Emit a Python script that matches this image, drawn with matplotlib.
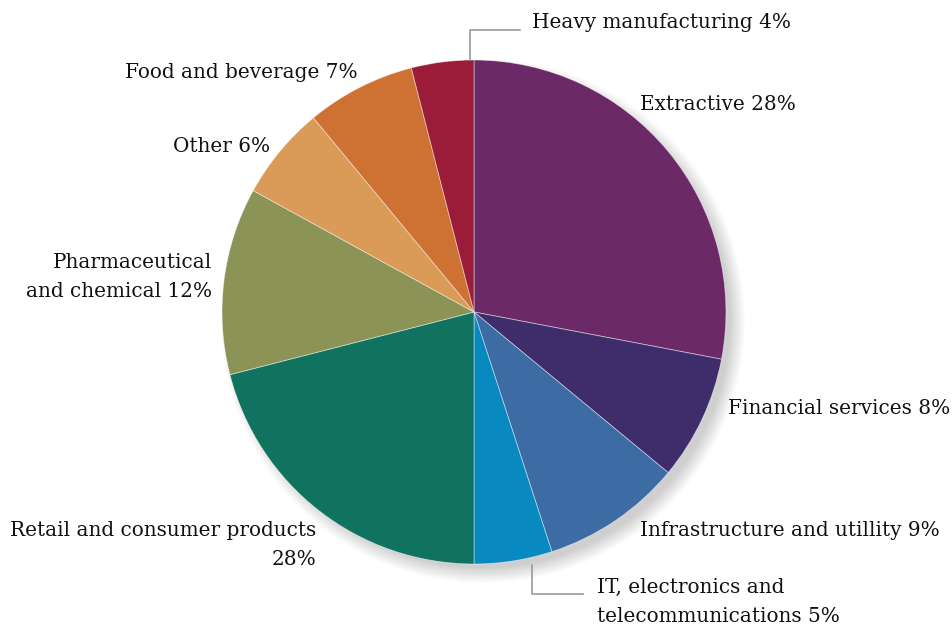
import matplotlib
matplotlib.use("Agg")
import matplotlib.pyplot as plt
from matplotlib.patches import Circle

# Data (slice shares; label texts as printed)
sectors = ["Extractive", "Financial services", "Infrastructure and utillity",
           "IT, electronics and telecommunications", "Retail and consumer products",
           "Pharmaceutical and chemical", "Other", "Food and beverage",
           "Heavy manufacturing"]
values = [28, 8, 9, 5, 21, 12, 6, 7, 4]
label_texts = ["Extractive 28%", "Financial services 8%", "Infrastructure and utillity 9%",
               "IT, electronics and\ntelecommunications 5%", "Retail and consumer products\n28%",
               "Pharmaceutical\nand chemical 12%", "Other 6%", "Food and beverage 7%",
               "Heavy manufacturing 4%"]
colors = ["#6B2A67", "#3F2C6B", "#3D6BA4", "#0889C0", "#10735F",
          "#8B9456", "#DA9B58", "#CE7233", "#9A1C38"]

W, H = 952, 627
fig = plt.figure(figsize=(W / 100, H / 100), dpi=100)
ax = fig.add_axes([0, 0, 1, 1])

cx, cy, R = 474, H - 312, 252

# soft shadow (down-right)
for i in range(16):
    r = R + 10 - i
    ax.add_patch(Circle((cx + 9, cy - 9), r, facecolor="#000000", alpha=0.012,
                        edgecolor="none", zorder=0))

ax.pie(values, center=(cx, cy), radius=R, startangle=90, counterclock=False,
       colors=colors, wedgeprops=dict(edgecolor=(1, 1, 1, 0.5), linewidth=0.6),
       frame=True)

ax.set_xlim(0, W)
ax.set_ylim(0, H)
ax.set_aspect("auto")
ax.axis("off")

font = dict(family="DejaVu Serif", fontsize=14.4, color="#111111")

def T(x, y, s, ha="left"):
    ax.text(x, H - y, s, ha=ha, va="center", linespacing=1.7, **font)

T(532, 23, label_texts[8])
T(640, 104, label_texts[0])
T(728, 408, label_texts[1])
T(640, 530, label_texts[2])
T(597, 602, label_texts[3])
T(316, 545, label_texts[4], ha="right")
T(212, 277, label_texts[5], ha="right")
T(270, 147, label_texts[6], ha="right")
T(358, 72, label_texts[7], ha="right")

# leader lines
lc = "#9a9a9a"
ax.plot([470, 470, 520], [H - 60, H - 30, H - 30], color=lc, lw=1.2, zorder=5)
ax.plot([532, 532, 583], [H - 565, H - 594, H - 594], color=lc, lw=1.2, zorder=5)

fig.savefig("out.png", dpi=100, facecolor="white")
